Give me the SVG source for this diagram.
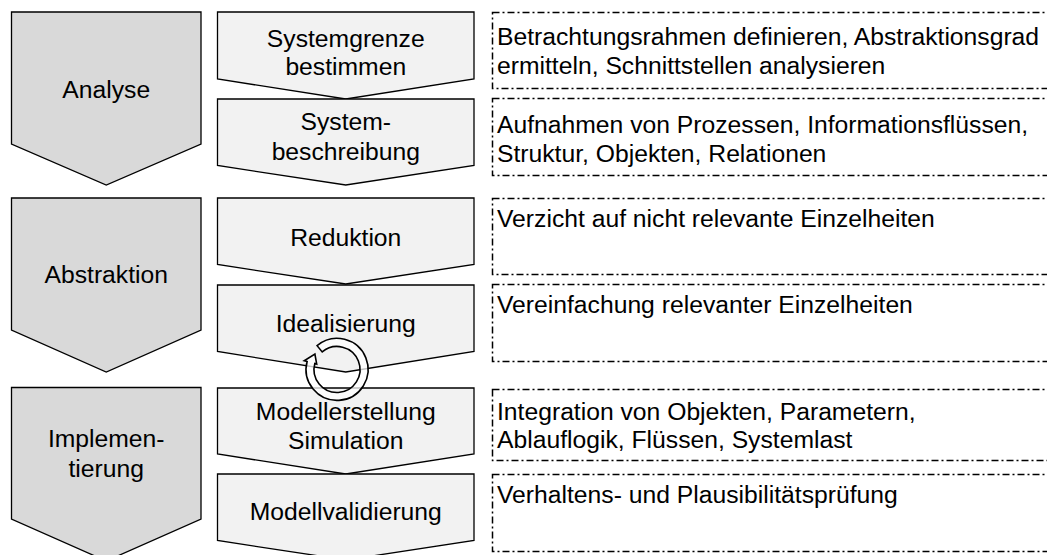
<svg xmlns="http://www.w3.org/2000/svg" width="1047" height="555" viewBox="0 0 1047 555">
<style>
.phase{fill:#d9d9d9;stroke:#000;stroke-width:1.3;stroke-linejoin:miter}
.step{fill:#f2f2f2;stroke:#000;stroke-width:1.3;stroke-linejoin:miter}
.box{fill:none;stroke:#000;stroke-width:1.5;stroke-dasharray:7 3 2 3}
text{font-family:"Liberation Sans",Arial,Helvetica,sans-serif;font-size:24.7px;fill:#000}
.c{text-anchor:middle}
</style>
<rect width="1047" height="555" fill="#fff"/>
<g id="analyse">
<polygon class="phase" points="11.5,12 201,12 201,144 106.25,185 11.5,144"/>
<text class="c" x="106.25" y="98">Analyse</text>
</g>
<g id="abstraktion">
<polygon class="phase" points="11.5,198 201,198 201,330 106.25,372 11.5,330"/>
<text class="c" x="106.25" y="283">Abstraktion</text>
</g>
<g id="implementierung">
<polygon class="phase" points="11.5,387.5 201,387.5 201,519 106.25,561 11.5,519"/>
<text class="c" x="106.25" y="447">Implemen-</text>
<text class="c" x="106.25" y="477">tierung</text>
</g>
<g id="systemgrenze">
<polygon class="step" points="217.5,12 474,12 474,79 345.75,99 217.5,79"/>
<text class="c" x="345.75" y="47">Systemgrenze</text>
<text class="c" x="345.75" y="75">bestimmen</text>
</g>
<g id="systembeschreibung">
<polygon class="step" points="217.5,99 474,99 474,165.5 345.75,185 217.5,165.5"/>
<text class="c" x="345.75" y="130">System-</text>
<text class="c" x="345.75" y="160">beschreibung</text>
</g>
<g id="reduktion">
<polygon class="step" points="217.5,198 474,198 474,264.5 345.75,284 217.5,264.5"/>
<text class="c" x="345.75" y="246">Reduktion</text>
</g>
<g id="idealisierung">
<polygon class="step" points="217.5,285 474,285 474,351.5 345.75,372 217.5,351.5"/>
<text class="c" x="345.75" y="332">Idealisierung</text>
</g>
<g id="modellerstellung">
<polygon class="step" points="217.5,388 474,388 474,454 345.75,474 217.5,454"/>
<text class="c" x="345.75" y="420">Modellerstellung</text>
<text class="c" x="345.75" y="449">Simulation</text>
</g>
<g id="modellvalidierung">
<polygon class="step" points="217.5,474 474,474 474,540.5 345.75,560 217.5,540.5"/>
<text class="c" x="345.75" y="520">Modellvalidierung</text>
</g>
<g id="loop">
<path d="M317.1,345.7 A31,31 0 1 1 307.1,361.5 L304.2,360.7 L314.9,354 L316.7,364.1 L314.8,363.5 A23,23 0 1 0 322.2,351.9 Z" fill="#fff" fill-opacity="0.75" stroke="#000" stroke-width="1.6" stroke-linejoin="miter"/>
</g>
<g id="desc1">
<rect class="box" x="492.5" y="12.5" width="600" height="76"/>
<text x="497" y="45">Betrachtungsrahmen definieren, Abstraktionsgrad</text>
<text x="497" y="74">ermitteln, Schnittstellen analysieren</text>
</g>
<g id="desc2">
<rect class="box" x="492.5" y="98.5" width="600" height="77"/>
<text x="497" y="133">Aufnahmen von Prozessen, Informationsflüssen,</text>
<text x="497" y="162">Struktur, Objekten, Relationen</text>
</g>
<g id="desc3">
<rect class="box" x="492.5" y="198.5" width="600" height="76"/>
<text x="497" y="227">Verzicht auf nicht relevante Einzelheiten</text>
</g>
<g id="desc4">
<rect class="box" x="492.5" y="284.5" width="600" height="77"/>
<text x="497" y="313">Vereinfachung relevanter Einzelheiten</text>
</g>
<g id="desc5">
<rect class="box" x="492.5" y="389.5" width="600" height="71"/>
<text x="497" y="420">Integration von Objekten, Parametern,</text>
<text x="497" y="448">Ablauflogik, Flüssen, Systemlast</text>
</g>
<g id="desc6">
<rect class="box" x="492.5" y="474.5" width="600" height="77"/>
<text x="497" y="503">Verhaltens- und Plausibilitätsprüfung</text>
</g>
<g id="connectors"></g>
</svg>
